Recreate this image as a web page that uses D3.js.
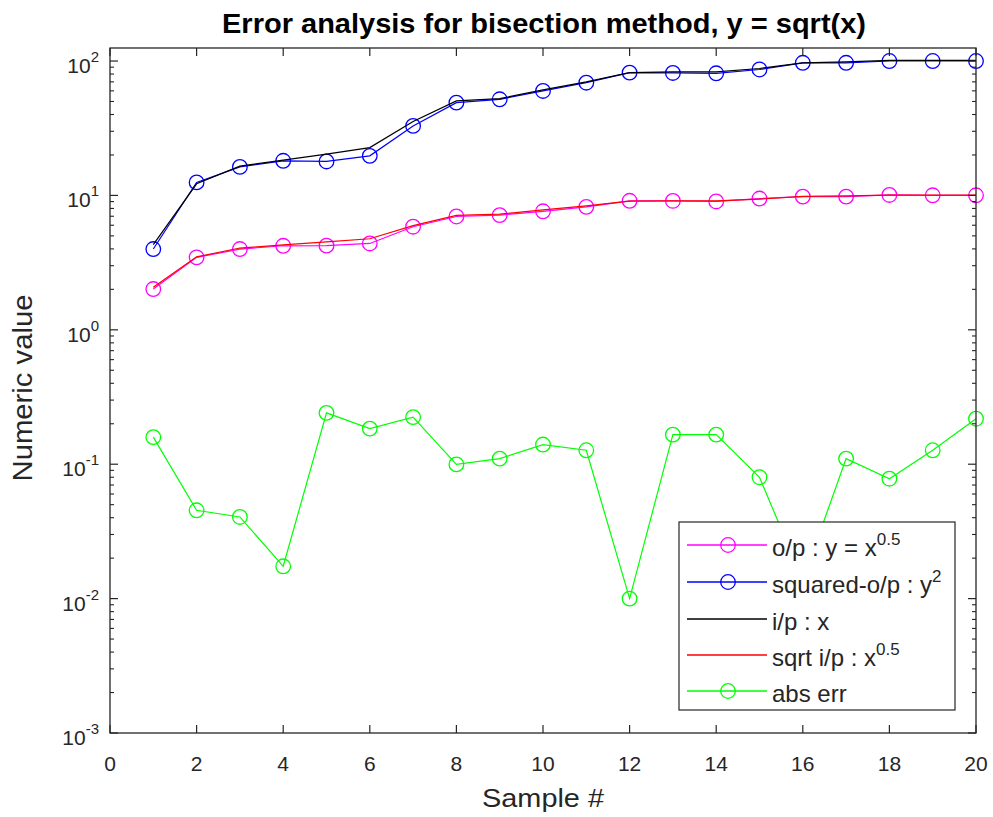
<!DOCTYPE html>
<html><head><meta charset="utf-8">
<script src="https://cdn.jsdelivr.net/npm/d3@7"></script>
<style>body{margin:0;background:#fff;} text{font-family:"Liberation Sans",Arial,sans-serif;}</style>
</head><body>
<svg id="c" width="993" height="817"></svg>
<script>
const samples = [1,2,3,4,5,6,7,8,9,10,11,12,13,14,15,16,17,18,19,20];
const outputY = [2.01,3.46,3.99,4.22,4.23,4.39,5.85,6.97,7.13,7.62,8.22,9.12,9.10,9.02,9.48,9.80,9.80,10.08,10.02,10.02];
const squaredOut = [3.99,12.5,16.3,18.1,17.9,19.7,32.9,49.0,51.9,59.9,69.0,82.0,81.5,81.0,86.5,97.0,97.0,100.0,100.0,100.0];
const inputX = [4.3,12.2,16.5,18.3,20.3,22.7,35.5,50.5,52.5,61.0,70.0,82.0,83.0,83.0,88.0,97.0,98.5,101.0,101.0,101.0];
const sqrtInput = [2.07,3.49,4.06,4.28,4.51,4.76,5.96,7.11,7.25,7.81,8.37,9.06,9.11,9.11,9.38,9.85,9.92,10.05,10.05,10.05];
const absErr = [0.159,0.0454,0.0405,0.0174,0.241,0.184,0.224,0.0997,0.110,0.140,0.127,0.0100,0.166,0.166,0.080,0.0137,0.110,0.078,0.127,0.218];
const xTicks = [0,2,4,6,8,10,12,14,16,18,20];
const yTickExps = [-3,-2,-1,0,1,2];

const svg = d3.select("#c");
const L=110,R=976,T=48,B=733;
const x = d3.scaleLinear().domain([0,20]).range([L,R]);
const y = d3.scaleLog().domain([1e-3,125]).range([B,T]);
const axisCol = "#262626";

const series = [
  {data:outputY, color:"#ff00ff", marker:true},
  {data:squaredOut, color:"#0000ff", marker:true},
  {data:inputX, color:"#000000", marker:false},
  {data:sqrtInput, color:"#ff0000", marker:false},
  {data:absErr, color:"#00ff00", marker:true}
];
const line = d3.line().x((d,i)=>x(samples[i])).y(d=>y(d));
const g = svg.append("g");
series.forEach(s=>{
  g.append("path").attr("d",line(s.data)).attr("fill","none").attr("stroke",s.color).attr("stroke-width",1.2);
  if(s.marker){
    g.selectAll(null).data(s.data).enter().append("circle")
      .attr("cx",(d,i)=>x(samples[i])).attr("cy",d=>y(d)).attr("r",7.3)
      .attr("fill","none").attr("stroke",s.color).attr("stroke-width",1.3);
  }
});

svg.append("rect").attr("x",L).attr("y",T).attr("width",R-L).attr("height",B-T)
  .attr("fill","none").attr("stroke",axisCol).attr("stroke-width",1.3);

xTicks.forEach(t=>{
  svg.append("line").attr("x1",x(t)).attr("x2",x(t)).attr("y1",B).attr("y2",B-8).attr("stroke",axisCol).attr("stroke-width",1.2);
  svg.append("line").attr("x1",x(t)).attr("x2",x(t)).attr("y1",T).attr("y2",T+8).attr("stroke",axisCol).attr("stroke-width",1.2);
  svg.append("text").attr("x",x(t)).attr("y",B+38).attr("text-anchor","middle")
    .attr("font-size",21).attr("fill",axisCol).text(t);
});
yTickExps.forEach(e=>{
  const v = Math.pow(10,e);
  [L,R].forEach((xx,k)=>{
    const dir = k===0?1:-1;
    svg.append("line").attr("x1",xx).attr("x2",xx+dir*8).attr("y1",y(v)).attr("y2",y(v)).attr("stroke",axisCol).attr("stroke-width",1.2);
  });
  const tx = svg.append("text").attr("x",99).attr("y",y(v)+12).attr("text-anchor","end")
    .attr("font-size",21).attr("fill",axisCol);
  tx.append("tspan").text("10");
  tx.append("tspan").attr("dy",-11).attr("font-size",15).text(String(e));
  if(e<2){
    for(let m=2;m<=9;m++){
      const mv = m*v;
      [L,R].forEach((xx,k)=>{
        const dir = k===0?1:-1;
        svg.append("line").attr("x1",xx).attr("x2",xx+dir*4).attr("y1",y(mv)).attr("y2",y(mv)).attr("stroke",axisCol).attr("stroke-width",1.1);
      });
    }
  }
});

svg.append("text").attr("x",544).attr("y",33).attr("text-anchor","middle")
  .attr("font-size",27).attr("font-weight","bold").attr("fill","#000")
  .attr("textLength",644).attr("lengthAdjust","spacingAndGlyphs")
  .text("Error analysis for bisection method, y = sqrt(x)");
svg.append("text").attr("x",543).attr("y",807).attr("text-anchor","middle")
  .attr("font-size",26).attr("fill",axisCol)
  .attr("textLength",122).attr("lengthAdjust","spacingAndGlyphs").text("Sample #");
svg.append("text").attr("transform",`translate(32,388) rotate(-90)`).attr("text-anchor","middle")
  .attr("font-size",27).attr("fill",axisCol)
  .attr("textLength",187).attr("lengthAdjust","spacingAndGlyphs").text("Numeric value");

const lg = svg.append("g");
lg.append("rect").attr("x",679).attr("y",522).attr("width",276).attr("height",188)
  .attr("fill","#fff").attr("stroke",axisCol).attr("stroke-width",1.2);
const legendItems = [
  {color:"#ff00ff", marker:true, parts:[["o/p : y = x",0],["0.5",1]]},
  {color:"#0000ff", marker:true, parts:[["squared-o/p : y",0],["2",1]]},
  {color:"#000000", marker:false, parts:[["i/p : x",0]]},
  {color:"#ff0000", marker:false, parts:[["sqrt i/p : x",0],["0.5",1]]},
  {color:"#00ff00", marker:true, parts:[["abs err",0]]}
];
const legendY = [545,582,619,655,691];
legendItems.forEach((it,i)=>{
  const yy = legendY[i];
  lg.append("line").attr("x1",687).attr("x2",767).attr("y1",yy).attr("y2",yy).attr("stroke",it.color).attr("stroke-width",1.3);
  if(it.marker) lg.append("circle").attr("cx",728).attr("cy",yy).attr("r",7.3).attr("fill","none").attr("stroke",it.color).attr("stroke-width",1.3);
  const t = lg.append("text").attr("x",772).attr("y",yy+11).attr("font-size",24).attr("fill",axisCol);
  it.parts.forEach(p=>{
    if(p[1]) t.append("tspan").attr("dy",-11).attr("font-size",17).text(p[0]);
    else t.append("tspan").text(p[0]);
  });
});
</script>
</body></html>
